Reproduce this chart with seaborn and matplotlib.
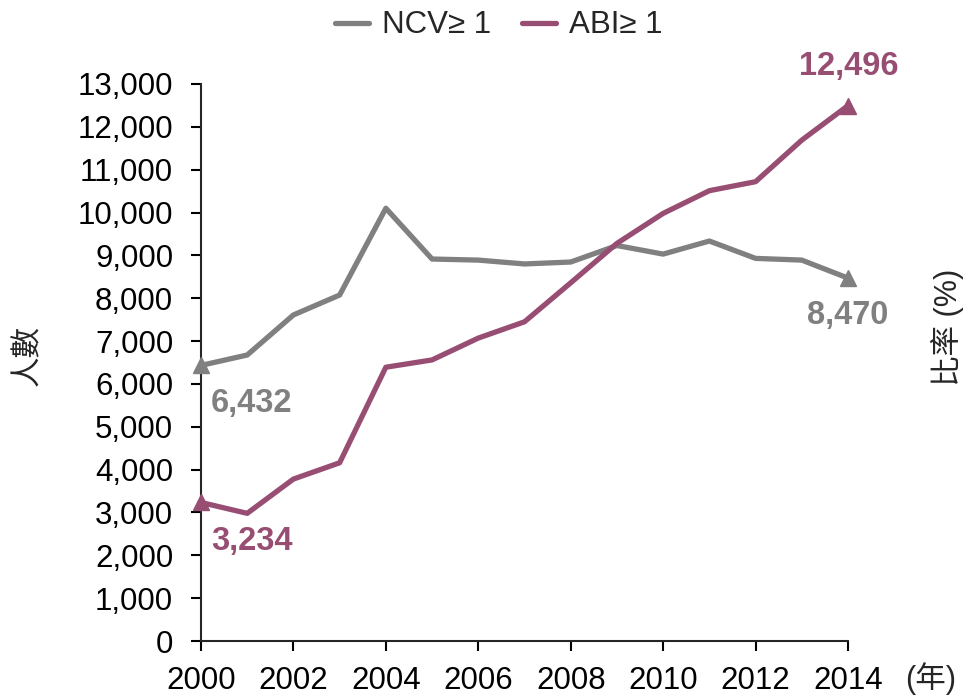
import matplotlib
matplotlib.use('Agg')
import matplotlib.pyplot as plt
import seaborn as sns
import pandas as pd

anos = list(range(2000, 2015))
ncv = [6432, 6675, 7610, 8075, 10100, 8915, 8890, 8800, 8845, 9230, 9030, 9335, 8930, 8890, 8470]
abi = [3234, 2980, 3780, 4160, 6390, 6560, 7070, 7450, 8360, 9280, 9980, 10510, 10720, 11690, 12496]
series = ['NCV≥ 1', 'ABI≥ 1']
cores = {'NCV≥ 1': '#808080', 'ABI≥ 1': '#984E73'}

df = pd.DataFrame({'Ano': anos * 2,
                   'Valor': ncv + abi,
                   'Serie': [series[0]] * len(anos) + [series[1]] * len(anos)})

sns.set_style('ticks')
plt.rcParams['font.family'] = ['Liberation Sans', 'Noto Sans CJK TC', 'DejaVu Sans']

fig = plt.figure(figsize=(9.63, 6.97), dpi=100)
ax = fig.add_axes([0.2087, 0.0803, 0.6719, 0.7992])

sns.lineplot(data=df, x='Ano', y='Valor', hue='Serie', palette=cores, linewidth=3.8, ax=ax)

# Triângulos no início e no fim de cada série.
for nome, vals in zip(series, [ncv, abi]):
    ax.plot([anos[0], anos[-1]], [vals[0], vals[-1]], linestyle='none', marker='^',
            markersize=12, color=cores[nome], clip_on=False, zorder=5)

# Rótulos dos valores.
kw = dict(fontsize=23.5, fontweight='bold')
ax.text(2000.22, ncv[0] - 900, f'{ncv[0]:,}', color=cores[series[0]], ha='left', va='center', **kw)
ax.text(2000.22, abi[0] - 900, f'{abi[0]:,}', color=cores[series[1]], ha='left', va='center', **kw)
ax.text(2014.02, abi[-1] + 920, f'{abi[-1]:,}', color=cores[series[1]], ha='center', va='center', **kw)
ax.text(2014.0, ncv[-1] - 880, f'{ncv[-1]:,}', color=cores[series[0]], ha='center', va='center', **kw)

ax.set_xlim(2000, 2014)
ax.set_ylim(0, 13000)
ax.set_xticks(range(2000, 2015, 2))
ax.set_yticks(range(0, 13001, 1000))
ax.set_yticklabels([f'{v:,}' for v in range(0, 13001, 1000)])
ax.tick_params(labelsize=22.5, length=7, width=1.5, colors='black')
ax.tick_params(axis='y', pad=13)
ax.tick_params(axis='x', pad=11)
for s in ['left', 'bottom']:
    ax.spines[s].set_linewidth(1.5)
sns.despine(ax=ax)

ax.set_xlabel('')
ax.set_ylabel('')
fig.text(0.029, 0.49, '人數', rotation=90, fontsize=22, ha='center', va='center')
fig.text(0.984, 0.53, '比率 (%)', rotation=90, fontsize=22, ha='center', va='center')
fig.text(0.966, 0.027, '(年)', fontsize=22, ha='center', va='center')

ax.legend(loc='center', bbox_to_anchor=(0.46, 1.105), ncol=2, frameon=False,
          fontsize=22.5, handlelength=1.1, columnspacing=1.0, handletextpad=0.4)

plt.savefig('out.png', dpi=100)
